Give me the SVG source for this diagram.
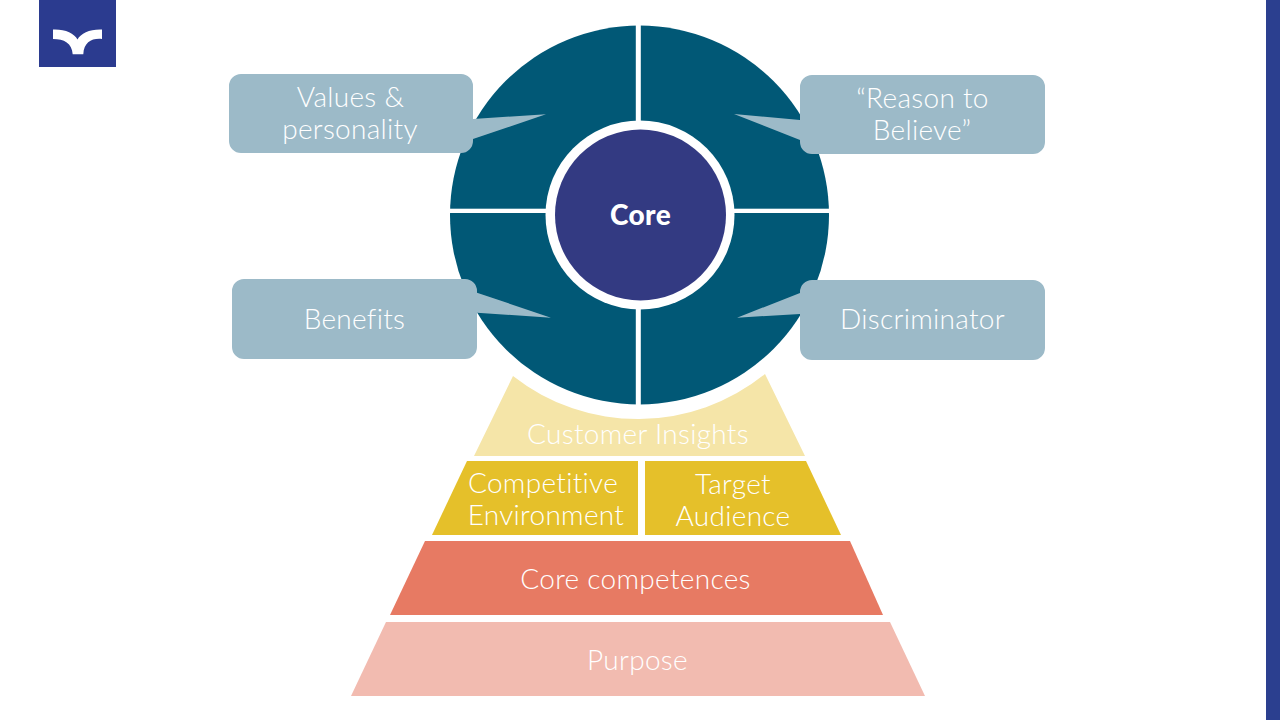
<svg xmlns="http://www.w3.org/2000/svg" width="1280" height="720" viewBox="0 0 1280 720">
<style>
text{font-family:"Lato","Noto Sans",sans-serif;font-weight:300;font-size:28px;letter-spacing:.3px;font-variant-ligatures:none;fill:#fff;text-anchor:middle}
.call{fill:#9cbac8}
.seg{fill:#015876}
</style>
<rect width="1280" height="720" fill="#fff"/>
<rect id="side-bar" x="1266" y="0" width="14" height="720" fill="#2b3f8f"/>
<g id="logo"><rect x="39" y="0" width="77" height="67" fill="#2b3b8f"/>
<path d="M53 29.500C65 29 74 33 77.500 39.500C81 33 90 29 102 29.500L102 39C92 38 84 42 83.300 54.300L72.700 54.300C72 43 64 39 53 39Z" fill="#fff"/></g>
<g id="wheel">
<circle cx="639.500" cy="215" r="189.500" class="seg"/>
<rect x="635.800" y="20" width="5" height="390" fill="#fff"/>
<rect x="445" y="208.700" width="390" height="4.300" fill="#fff"/>
<circle cx="640" cy="215" r="94.500" fill="#fff"/>
</g>
<g id="core"><circle cx="640.500" cy="215" r="85.500" fill="#333a82"/>
<text x="640.500" y="225" style="font-weight:900;font-size:28px;letter-spacing:.4px">Core</text></g>
<g id="values"><path class="call" d="M241 74H461A12 12 0 0 1 473 86V119L546 114.300L473 139V141A12 12 0 0 1 461 153H241A12 12 0 0 1 229 141V86A12 12 0 0 1 241 74Z"/>
<text x="350.500" y="107">Values &amp;</text><text x="350" y="139">personality</text></g>
<g id="reason"><path class="call" d="M812 75H1033A12 12 0 0 1 1045 87V142A12 12 0 0 1 1033 154H812A12 12 0 0 1 800 142V140L734 114L800 120V87A12 12 0 0 1 812 75Z"/>
<text x="922.500" y="108">“Reason to</text><text x="922" y="140">Believe”</text></g>
<g id="benefits"><path class="call" d="M244 279H465A12 12 0 0 1 477 291V292.700L551 317.700L477 312.700V347A12 12 0 0 1 465 359H244A12 12 0 0 1 232 347V291A12 12 0 0 1 244 279Z"/>
<text x="354.500" y="329">Benefits</text></g>
<g id="discriminator"><path class="call" d="M812 280H1033A12 12 0 0 1 1045 292V348A12 12 0 0 1 1033 360H812A12 12 0 0 1 800 348V314L737 317.700L800 293V292A12 12 0 0 1 812 280Z"/>
<text x="922.500" y="329">Discriminator</text></g>
<g id="customer-insights"><path d="M513 376A202 202 0 0 0 765 374L805 456H474Z" fill="#f5e5a8"/>
<text x="638" y="444">Customer Insights</text></g>
<g id="competitive-environment"><path d="M467 461H638V535H432Z" fill="#e5c02a"/>
<text x="543" y="493">Competitive</text><text x="546" y="525">Environment</text></g>
<g id="target-audience"><path d="M645 461H806L841 535H645Z" fill="#e5c02a"/>
<text x="733" y="494">Target</text><text x="733" y="526">Audience</text></g>
<g id="core-competences"><path d="M425 541H850L883 615H390Z" fill="#e77a63"/>
<text x="635.500" y="589">Core competences</text></g>
<g id="purpose"><path d="M386 622H890L925 696H351Z" fill="#f2bbb0"/>
<text x="637.500" y="670">Purpose</text></g>
</svg>
